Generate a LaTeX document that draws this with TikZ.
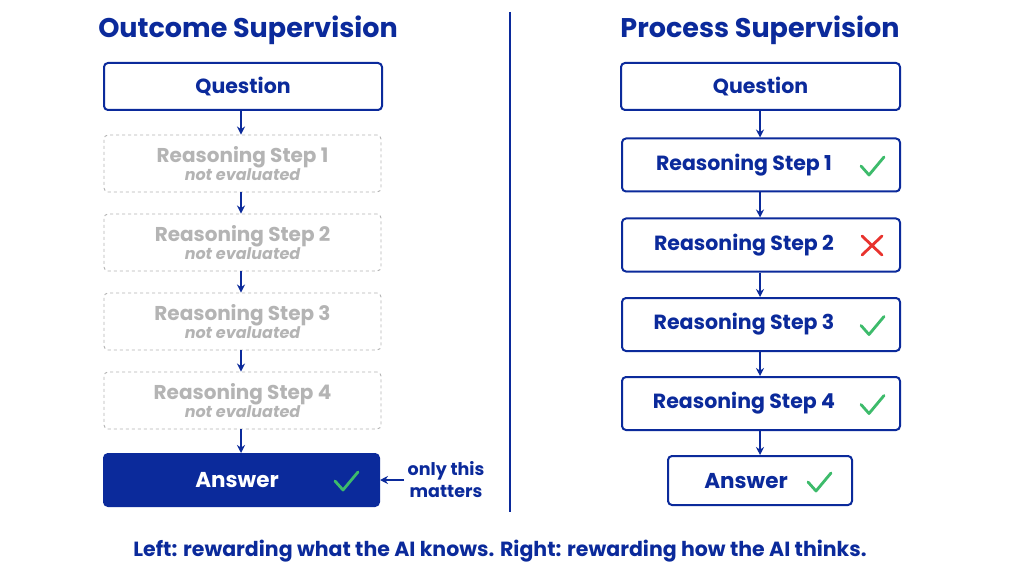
\documentclass[tikz,border=0pt]{standalone}
\usepackage{fontspec}
\setmainfont{Poppins}
\usetikzlibrary{arrows.meta}
\definecolor{navy}{HTML}{0B2A9B}
\definecolor{gry}{HTML}{B4B4B4}
\definecolor{okg}{HTML}{3DBB6B}
\definecolor{bad}{HTML}{E8332E}
\tikzset{
  box/.style={draw=navy,line width=2pt,rounded corners=4pt,fill=white,text=navy,font=\bfseries\fontsize{20.5}{24}\selectfont},
  gbox/.style={draw=gry,dashed,line width=0.9pt,rounded corners=4pt,text=gry,align=center,font=\bfseries\fontsize{20}{22}\selectfont},
  arr/.style={-{Stealth[length=8pt,width=8pt]},draw=navy,line width=1.6pt},
  ttl/.style={text=navy,font=\bfseries\fontsize{27}{30}\selectfont},
  chk/.style={draw=okg,line width=2.8pt,line cap=round,line join=round},
  crs/.style={draw=bad,line width=2.8pt,line cap=round}
}
\newcommand{\gsub}{\\[-4pt]{\itshape\fontsize{16}{18}\selectfont not evaluated}}
\begin{document}
\begin{tikzpicture}[x=1pt,y=-1pt]
\useasboundingbox (0,0) rectangle (1024,585);
\fill[white] (0,0) rectangle (1024,585);
\node[ttl] (t1) at (248,30) {Outcome Supervision};
\node[ttl] (t2) at (760,30) {Process Supervision};
\draw[navy,line width=1.8pt] (510,12) -- (510,512);
% left
\node[box,minimum width=278pt,minimum height=47pt] (lq) at (243,86.5) {Question};
\node[gbox,minimum width=277pt,minimum height=57pt] (l1) at (242.5,163.5) {Reasoning Step 1\gsub};
\node[gbox,minimum width=277pt,minimum height=57pt] (l2) at (242.5,242.5) {Reasoning Step 2\gsub};
\node[gbox,minimum width=277pt,minimum height=57pt] (l3) at (242.5,321.5) {Reasoning Step 3\gsub};
\node[gbox,minimum width=277pt,minimum height=57pt] (l4) at (242.5,400.5) {Reasoning Step 4\gsub};
\node[box,fill=navy,text=white,minimum width=275pt,minimum height=52pt] (la) at (241.5,480) {};
\node[text=white,font=\bfseries\fontsize{21.5}{24}\selectfont] (lat) at (237,480) {Answer};
\draw[chk] (335,481) -- (343,490) -- (358,472);
\foreach \a/\b in {lq/l1,l1/l2,l2/l3,l3/l4,l4/la}{\draw[arr] (\a.south -| 241,0) -- (\b.north -| 241,0);}
\node[text=navy,align=center,font=\bfseries\fontsize{17.5}{22}\selectfont] (note) at (446,480) {only this\\matters};
\draw[arr] (note.west) -- (la.east);
% right
\node[box,minimum width=279pt,minimum height=47pt] (rq) at (760.5,86.5) {Question};
\foreach \i/\y in {1/165,2/245,3/324.5,4/403.5}{
  \node[box,minimum width=278pt,minimum height=53pt] (r\i) at (761,\y) {};
  \node[text=navy,font=\bfseries\fontsize{20.5}{24}\selectfont] at (744,\y) {Reasoning Step \i};
}
\node[box,minimum width=184pt,minimum height=49pt] (ra) at (760,480.5) {};
\node[text=navy,font=\bfseries\fontsize{21.5}{24}\selectfont] at (746,481) {Answer};
\foreach \y in {165,324.5,403.5}{\draw[chk] (861,\y+1) -- (869,\y+10) -- (884,\y-8);}
\draw[chk] (808,482) -- (816,491) -- (831,473);
\draw[crs] (862,236) -- (882,255) (882,236) -- (862,255);
\foreach \a/\b in {rq/r1,r1/r2,r2/r3,r3/r4,r4/ra}{\draw[arr] (\a.south -| 760,0) -- (\b.north -| 760,0);}
\node[text=navy,font=\bfseries\fontsize{20.5}{24}\selectfont] (cap) at (500,551) {Left: rewarding what the AI knows. Right: rewarding how the AI thinks.};
\end{tikzpicture}
\end{document}
